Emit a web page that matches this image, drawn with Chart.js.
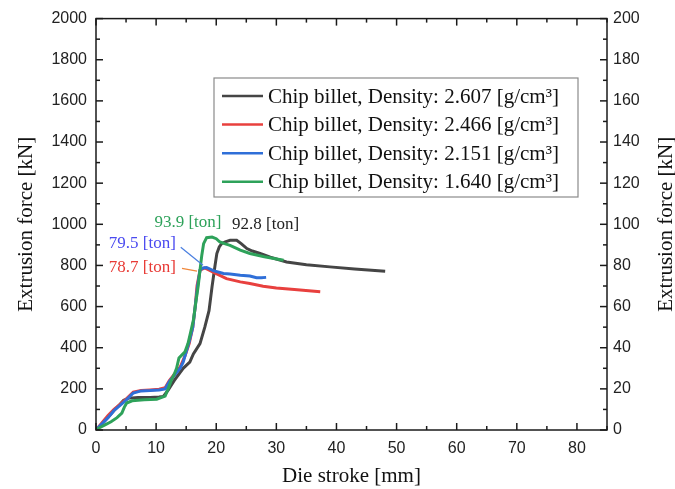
<!DOCTYPE html>
<html>
<head>
<meta charset="utf-8">
<script src="https://cdn.jsdelivr.net/npm/chart.js@4/dist/chart.umd.min.js"></script>
<style>
html,body{margin:0;padding:0;background:#fff;}
canvas{display:block;}
</style>
</head>
<body>
<canvas id="c" width="675" height="489"></canvas>
<script>
// ---------------- data ----------------
const seriesLabels = [
  'Chip billet, Density: 2.607 [g/cm³]',
  'Chip billet, Density: 2.466 [g/cm³]',
  'Chip billet, Density: 2.151 [g/cm³]',
  'Chip billet, Density: 1.640 [g/cm³]'
];
const seriesColors = ['#454545', '#e8403e', '#2f6fd8', '#2ea25a'];

const stroke2607 = [0,1,2,3,4,4.6,5.5,7,9,10.5,11.2,12,13,14.5,15.6,16.2,17.3,18.1,18.8,19.3,19.8,20.1,20.5,20.9,21.5,22.3,23.4,24.2,25.1,26,27.3,29,31.7,35,38.9,43,48.1];
const force2607  = [0,30,62,95,125,145,155,158,158,160,163,194,240,300,330,370,420,500,580,696,800,858,890,906,915,922,922,905,882,870,858,840,817,803,793,783,772];

const stroke2466 = [0,1,2,3,4,5,6.2,7.5,9,10.5,11.5,12.2,13,14,14.8,15.5,16.1,16.5,16.8,17.3,18.1,19,20,21.7,24,25.6,27.8,30,33,37.3];
const force2466  = [0,35,70,100,125,150,184,192,195,198,205,240,270,306,360,420,500,600,700,777,788,775,760,736,720,712,699,690,683,672];

const stroke2151 = [0,1,2,3,4,5,6.2,7.5,9,10.5,11.5,12.2,13,14,14.5,15,15.5,16.1,16.5,16.9,17.3,17.8,18.4,19.5,21.2,22.3,24,25.6,26.7,27.5,28.3];
const force2151  = [0,30,60,95,120,145,180,190,192,195,200,235,265,300,330,380,430,500,600,700,777,788,790,775,761,758,752,749,740,740,742];

const stroke1640 = [0,0.5,1.5,2.5,3.5,4.3,4.7,5.1,6,8,10.1,11.5,12,12.5,13,13.4,13.8,14.8,15.3,15.7,16.2,16.6,17,17.3,17.6,17.9,18.4,19.3,20,20.6,21.5,22.3,24,25.6,28,31.2];
const force1640  = [0,10,25,40,60,82,110,131,142,147,150,165,200,240,270,300,350,380,420,470,534,620,700,777,850,906,935,938,930,914,905,898,874,858,842,825];

const xTickValues = [0,10,20,30,40,50,60,70,80];
const yLeftTickValues = [0,200,400,600,800,1000,1200,1400,1600,1800,2000];
const yRightTickValues = [0,20,40,60,80,100,120,140,160,180,200];

// peak annotations (text, data x, data y, colour)
const annoTexts  = ['93.9 [ton]', '92.8 [ton]', '79.5 [ton]', '78.7 [ton]'];
const annoX      = [15.3, 28.2, 7.7, 7.7];
const annoY      = [1010, 1000, 905, 790];
const annoColors = ['#2ea25a', '#222222', '#4a4af0', '#e83a35'];
// leader lines: [x1,y1,x2,y2] in data units
const leaderBlue = [14.1, 888, 17.8, 801];
const leaderRed  = [14.3, 786, 16.8, 772];

// ---------------- chart ----------------
function pts(xs, ys){ return xs.map((v,i)=>({x:v, y:ys[i]})); }
const strokes = [stroke2607, stroke2466, stroke2151, stroke1640];
const forces = [force2607, force2466, force2151, force1640];

const datasets = seriesLabels.map((lab,i)=>({
  label: lab,
  data: pts(strokes[i], forces[i]),
  borderColor: seriesColors[i],
  backgroundColor: seriesColors[i],
  borderWidth: 3,
  pointRadius: 0,
  showLine: true,
  tension: 0,
  yAxisID: 'y'
}));
datasets.forEach((d,i)=>{ d.order = 4 - i; });

const serif = "'Liberation Serif', 'Times New Roman', serif";
const sans = "'Liberation Sans', Arial, sans-serif";
const plain = v => String(v);

const bgPlugin = {
  id:'bg',
  beforeDraw(chart){
    const c = chart.ctx; c.save(); c.fillStyle='#fff'; c.fillRect(0,0,chart.width,chart.height); c.restore();
  }
};

function minorOf(vals, max){
  const out=[]; const step = vals[1]-vals[0];
  for(let i=0;i<vals.length;i++){ const m = vals[i]+step/2; if(m<=max) out.push(m); }
  return out;
}

const framePlugin = {
  id:'frame',
  afterDatasetsDraw(chart){
    const c=chart.ctx, a=chart.chartArea, sx=chart.scales.x, sy=chart.scales.y, sy1=chart.scales.y1;
    c.save();
    c.strokeStyle='#1a1a1a'; c.lineWidth=1.5;
    c.strokeRect(a.left, a.top, a.right-a.left, a.bottom-a.top);
    function seg(x1,y1,x2,y2){ c.beginPath(); c.moveTo(x1,y1); c.lineTo(x2,y2); c.stroke(); }
    const MAJ=7, MIN=4;
    xTickValues.forEach(v=>{ const p=sx.getPixelForValue(v); seg(p,a.bottom,p,a.bottom-MAJ); seg(p,a.top,p,a.top+MAJ); });
    minorOf(xTickValues, sx.max).forEach(v=>{ const p=sx.getPixelForValue(v); seg(p,a.bottom,p,a.bottom-MIN); seg(p,a.top,p,a.top+MIN); });
    yLeftTickValues.forEach(v=>{ const p=sy.getPixelForValue(v); seg(a.left,p,a.left+MAJ,p); });
    minorOf(yLeftTickValues, sy.max).forEach(v=>{ const p=sy.getPixelForValue(v); seg(a.left,p,a.left+MIN,p); });
    yRightTickValues.forEach(v=>{ const p=sy1.getPixelForValue(v); seg(a.right,p,a.right-MAJ,p); });
    minorOf(yRightTickValues, sy1.max).forEach(v=>{ const p=sy1.getPixelForValue(v); seg(a.right,p,a.right-MIN,p); });
    c.restore();
  },
  afterDraw(chart){
    const c=chart.ctx, a=chart.chartArea, sx=chart.scales.x, sy=chart.scales.y;
    c.save();
    c.translate(666, (a.top+a.bottom)/2);
    c.rotate(-Math.PI/2);
    c.font = "21px " + serif; c.fillStyle='#111'; c.textAlign='center'; c.textBaseline='middle';
    c.fillText('Extrusion force [kN]', 0, 0);
    c.restore();

    c.save();
    c.font = "17px " + serif; c.textAlign='center'; c.textBaseline='middle';
    annoTexts.forEach((t,i)=>{ c.fillStyle=annoColors[i]; c.fillText(t, sx.getPixelForValue(annoX[i]), sy.getPixelForValue(annoY[i])); });
    c.lineWidth=1.2;
    c.strokeStyle='#4a7fe0';
    c.beginPath(); c.moveTo(sx.getPixelForValue(leaderBlue[0]), sy.getPixelForValue(leaderBlue[1])); c.lineTo(sx.getPixelForValue(leaderBlue[2]), sy.getPixelForValue(leaderBlue[3])); c.stroke();
    c.strokeStyle='#f0883c';
    c.beginPath(); c.moveTo(sx.getPixelForValue(leaderRed[0]), sy.getPixelForValue(leaderRed[1])); c.lineTo(sx.getPixelForValue(leaderRed[2]), sy.getPixelForValue(leaderRed[3])); c.stroke();
    c.restore();

    c.save();
    const L=214, T=78, W=364, H=119, rowH=28.6, firstRow=96;
    c.fillStyle='#fff'; c.fillRect(L,T,W,H);
    c.strokeStyle='#8a8a8a'; c.lineWidth=1.2; c.strokeRect(L,T,W,H);
    c.font = "21px " + serif; c.textBaseline='middle'; c.textAlign='left';
    chart.data.datasets.forEach((d,i)=>{
      const yy = firstRow + i*rowH;
      c.strokeStyle=d.borderColor; c.lineWidth=2.5;
      c.beginPath(); c.moveTo(222,yy); c.lineTo(263,yy); c.stroke();
      c.fillStyle='#111'; c.fillText(d.label, 268, yy+1);
    });
    c.restore();
  }
};

new Chart(document.getElementById('c'), {
  type: 'scatter',
  data: { datasets },
  options: {
    responsive: false,
    animation: false,
    devicePixelRatio: 1,
    layout: { padding: { top: 18, left: 0, right: 0, bottom: 0 } },
    plugins: { legend: { display: false }, tooltip: { enabled: false } },
    scales: {
      x: {
        type: 'linear', position: 'bottom', min: 0, max: 85,
        afterBuildTicks(s){ s.ticks = xTickValues.map(v=>({value:v})); },
        afterFit(s){ s.height = 59; },
        grid: { display: false, drawTicks: false },
        border: { display: false },
        ticks: { padding: 9, font: { family: sans, size: 16 }, color: '#222', maxRotation: 0, callback: plain },
        title: { display: true, text: 'Die stroke [mm]', font: { family: serif, size: 21 }, color: '#111', padding: { top: 2, bottom: 0 } }
      },
      y: {
        type: 'linear', position: 'left', min: 0, max: 2000,
        afterBuildTicks(s){ s.ticks = yLeftTickValues.map(v=>({value:v})); },
        afterFit(s){ s.width = 96; },
        grid: { display: false, drawTicks: false },
        border: { display: false },
        ticks: { padding: 9, font: { family: sans, size: 16 }, color: '#222', callback: plain },
        title: { display: true, text: 'Extrusion force [kN]', font: { family: serif, size: 21 }, color: '#111', padding: { top: 14, bottom: 0 } }
      },
      y1: {
        type: 'linear', position: 'right', min: 0, max: 200,
        afterBuildTicks(s){ s.ticks = yRightTickValues.map(v=>({value:v})); },
        afterFit(s){ s.width = 68; },
        grid: { display: false, drawTicks: false },
        border: { display: false },
        ticks: { padding: 6, font: { family: sans, size: 16 }, color: '#222', callback: plain },
        title: { display: false }
      }
    }
  },
  plugins: [bgPlugin, framePlugin]
});
</script>
</body>
</html>
